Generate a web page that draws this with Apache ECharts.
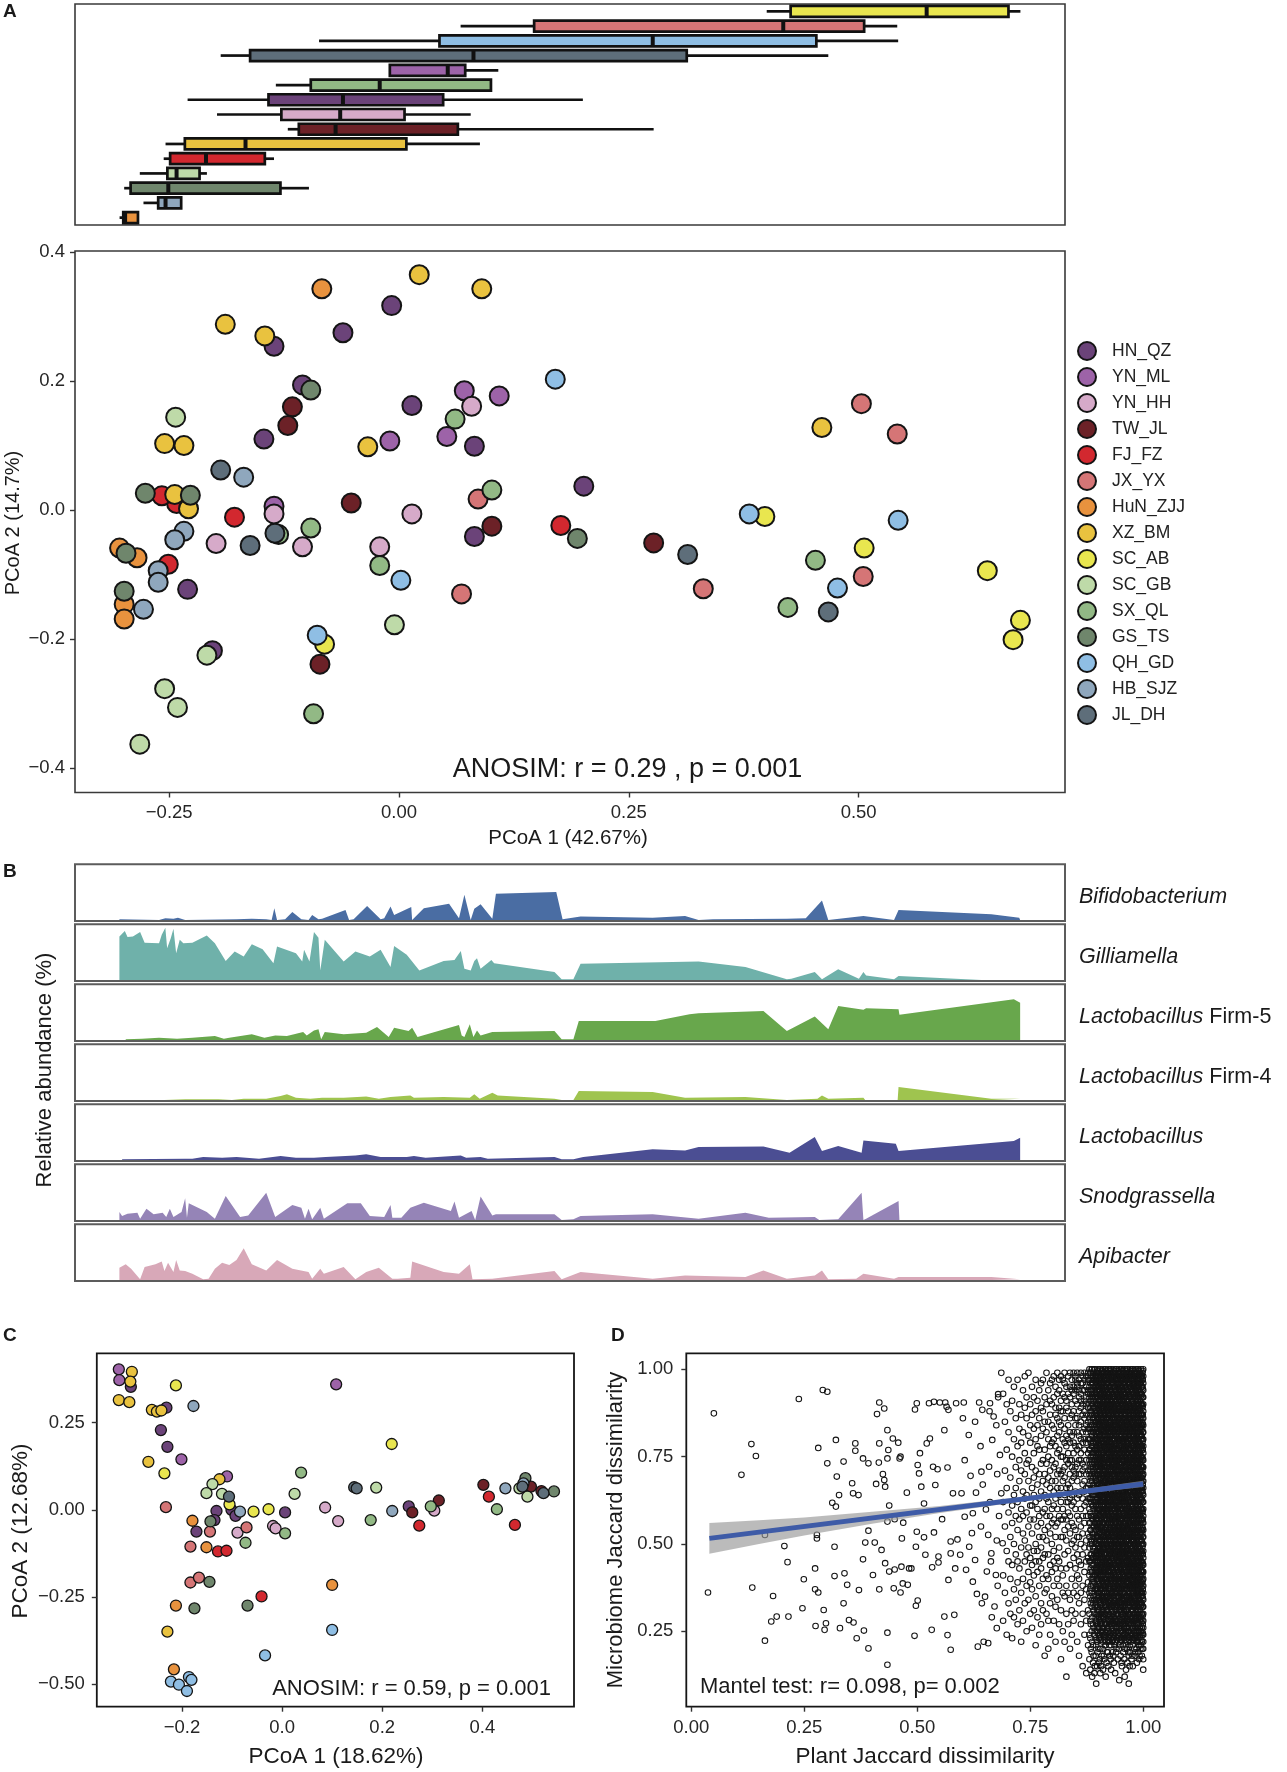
<!DOCTYPE html>
<html>
<head>
<meta charset="utf-8">
<title>Honeybee gut microbiome</title>
<script src="https://cdn.jsdelivr.net/npm/echarts/dist/echarts.min.js"></script>
<style>
  html, body { margin: 0; padding: 0; background: #fff; }
  #chart { width: 1287px; height: 1772px; }
</style>
</head>
<body>
<div id="chart"></div>
<script>
const FONT = '"Liberation Sans", Arial, Helvetica, sans-serif';

// sampling sites and their colours
const groups = ['HN_QZ', 'YN_ML', 'YN_HH', 'TW_JL', 'FJ_FZ', 'JX_YX', 'HuN_ZJJ', 'XZ_BM',
  'SC_AB', 'SC_GB', 'SX_QL', 'GS_TS', 'QH_GD', 'HB_SJZ', 'JL_DH'];
const groupColors = ['#6b4379', '#9d63a8', '#d6aac9', '#6c2127', '#d2282f', '#d57576', '#e8923e', '#e9c23f',
  '#e9e64f', '#bedaa8', '#92b985', '#6f866c', '#8fbee4', '#8fa7bd', '#5e6e7a'];

// panel A, top: PCoA 1 spread per site [site, min, q1, median, q3, max], top row first
const boxRows = [
  ['SC_AB', 0.400, 0.426, 0.574, 0.663, 0.676],
  ['JX_YX', 0.067, 0.147, 0.418, 0.506, 0.542],
  ['QH_GD', -0.087, 0.044, 0.276, 0.454, 0.543],
  ['JL_DH', -0.194, -0.162, 0.081, 0.313, 0.467],
  ['YN_ML', -0.010, -0.010, 0.053, 0.072, 0.108],
  ['SX_QL', -0.134, -0.096, -0.021, 0.100, 0.100],
  ['HN_QZ', -0.230, -0.142, -0.061, 0.048, 0.200],
  ['YN_HH', -0.198, -0.128, -0.064, 0.006, 0.078],
  ['TW_JL', -0.121, -0.109, -0.069, 0.064, 0.277],
  ['XZ_BM', -0.254, -0.233, -0.167, 0.008, 0.088],
  ['FJ_FZ', -0.256, -0.249, -0.210, -0.146, -0.136],
  ['SC_GB', -0.282, -0.252, -0.242, -0.217, -0.209],
  ['GS_TS', -0.299, -0.292, -0.251, -0.129, -0.098],
  ['HB_SJZ', -0.278, -0.262, -0.254, -0.237, -0.237],
  ['HuN_ZJJ', -0.304, -0.300, -0.298, -0.284, -0.284]
];

// panel A: [PCoA1, PCoA2, site]
const pcoaA = [
  [-0.084, 0.343, 'HuN_ZJJ'], [0.022, 0.365, 'XZ_BM'], [0.090, 0.343, 'XZ_BM'], [-0.008, 0.317, 'HN_QZ'],
  [-0.189, 0.288, 'XZ_BM'], [-0.061, 0.275, 'HN_QZ'], [-0.146, 0.270, 'XZ_BM'], [-0.136, 0.254, 'HN_QZ'],
  [-0.096, 0.186, 'GS_TS'], [-0.105, 0.194, 'HN_QZ'], [-0.116, 0.160, 'TW_JL'], [-0.121, 0.131, 'TW_JL'],
  [-0.147, 0.110, 'HN_QZ'], [-0.243, 0.144, 'SC_GB'], [-0.255, 0.103, 'XZ_BM'], [-0.234, 0.100, 'XZ_BM'],
  [-0.194, 0.062, 'JL_DH'], [-0.169, 0.051, 'HB_SJZ'], [-0.276, 0.026, 'GS_TS'], [-0.242, 0.010, 'FJ_FZ'],
  [-0.258, 0.022, 'FJ_FZ'], [-0.229, 0.002, 'XZ_BM'], [-0.244, 0.024, 'XZ_BM'], [-0.227, 0.023, 'GS_TS'],
  [-0.179, -0.011, 'FJ_FZ'], [-0.136, -0.006, 'YN_HH'], [-0.136, 0.006, 'YN_ML'], [-0.131, -0.038, 'SX_QL'],
  [-0.135, -0.036, 'JL_DH'], [-0.096, -0.028, 'SX_QL'], [-0.105, -0.057, 'YN_HH'], [-0.162, -0.055, 'JL_DH'],
  [-0.199, -0.052, 'YN_HH'], [-0.234, -0.033, 'HB_SJZ'], [-0.244, -0.046, 'HB_SJZ'], [-0.297, -0.067, 'GS_TS'],
  [-0.304, -0.059, 'HuN_ZJJ'], [-0.285, -0.074, 'HuN_ZJJ'], [-0.251, -0.084, 'FJ_FZ'], [-0.262, -0.094, 'HB_SJZ'],
  [-0.262, -0.112, 'HB_SJZ'], [-0.230, -0.123, 'HN_QZ'], [-0.299, -0.126, 'GS_TS'], [-0.299, -0.146, 'HuN_ZJJ'],
  [-0.299, -0.169, 'HuN_ZJJ'], [-0.278, -0.154, 'HB_SJZ'], [-0.209, -0.225, 'SC_GB'], [-0.203, -0.218, 'HN_QZ'],
  [-0.255, -0.277, 'SC_GB'], [-0.241, -0.306, 'SC_GB'], [-0.282, -0.363, 'SC_GB'], [-0.093, -0.316, 'SX_QL'],
  [-0.081, -0.208, 'SC_AB'], [-0.089, -0.194, 'QH_GD'], [-0.086, -0.239, 'TW_JL'], [-0.005, -0.178, 'SC_GB'],
  [0.002, -0.109, 'QH_GD'], [-0.021, -0.086, 'SX_QL'], [-0.021, -0.057, 'YN_HH'], [0.014, -0.006, 'YN_HH'],
  [-0.052, 0.011, 'TW_JL'], [-0.034, 0.098, 'XZ_BM'], [-0.010, 0.107, 'YN_ML'], [0.014, 0.162, 'HN_QZ'],
  [0.052, 0.114, 'YN_ML'], [0.061, 0.141, 'SX_QL'], [0.071, 0.185, 'YN_ML'], [0.079, 0.161, 'YN_HH'],
  [0.109, 0.177, 'YN_ML'], [0.082, 0.099, 'HN_QZ'], [0.101, 0.031, 'SX_QL'], [0.086, 0.017, 'JX_YX'],
  [0.101, -0.025, 'TW_JL'], [0.082, -0.041, 'HN_QZ'], [0.068, -0.130, 'JX_YX'], [0.170, 0.203, 'QH_GD'],
  [0.176, -0.024, 'FJ_FZ'], [0.201, 0.037, 'HN_QZ'], [0.194, -0.044, 'GS_TS'], [0.277, -0.051, 'TW_JL'],
  [0.314, -0.069, 'JL_DH'], [0.331, -0.122, 'JX_YX'], [0.381, -0.006, 'QH_GD'], [0.398, -0.010, 'SC_AB'],
  [0.460, 0.128, 'XZ_BM'], [0.503, 0.165, 'JX_YX'], [0.542, 0.118, 'JX_YX'], [0.543, -0.016, 'QH_GD'],
  [0.506, -0.059, 'SC_AB'], [0.505, -0.103, 'JX_YX'], [0.453, -0.078, 'SX_QL'], [0.477, -0.121, 'QH_GD'],
  [0.423, -0.151, 'SX_QL'], [0.467, -0.158, 'JL_DH'], [0.640, -0.094, 'SC_AB'], [0.676, -0.171, 'SC_AB'],
  [0.668, -0.201, 'SC_AB']
];

// panel C: [PCoA1, PCoA2, site]
const pcoaC = [
  [-0.326, 0.403, 'YN_ML'], [-0.300, 0.396, 'XZ_BM'], [-0.325, 0.372, 'YN_ML'], [-0.303, 0.368, 'XZ_BM'],
  [-0.302, 0.353, 'HN_QZ'], [-0.326, 0.315, 'XZ_BM'], [-0.305, 0.309, 'XZ_BM'], [-0.212, 0.357, 'SC_AB'],
  [-0.177, 0.298, 'HB_SJZ'], [-0.260, 0.287, 'XZ_BM'], [-0.250, 0.282, 'XZ_BM'], [-0.241, 0.285, 'XZ_BM'],
  [-0.231, 0.293, 'HN_QZ'], [-0.242, 0.229, 'HN_QZ'], [-0.229, 0.181, 'HN_QZ'], [-0.267, 0.138, 'XZ_BM'],
  [-0.235, 0.105, 'SC_AB'], [-0.201, 0.145, 'YN_ML'], [0.108, 0.360, 'YN_ML'], [0.219, 0.189, 'SC_AB'],
  [0.038, 0.107, 'SX_QL'], [0.025, 0.046, 'SC_GB'], [-0.139, 0.074, 'SC_GB'], [-0.151, 0.048, 'SC_GB'],
  [-0.125, 0.088, 'XZ_BM'], [-0.110, 0.096, 'YN_ML'], [-0.120, 0.046, 'SC_GB'], [-0.106, 0.038, 'JL_DH'],
  [-0.105, 0.016, 'SC_AB'], [-0.101, 0.000, 'HN_QZ'], [-0.084, -0.005, 'HB_SJZ'], [-0.093, -0.017, 'HN_QZ'],
  [-0.131, -0.003, 'HN_QZ'], [-0.135, -0.029, 'HN_QZ'], [-0.143, -0.033, 'GS_TS'], [-0.144, -0.062, 'JX_YX'],
  [-0.171, -0.062, 'HN_QZ'], [-0.179, -0.031, 'HuN_ZJJ'], [-0.232, 0.008, 'JX_YX'], [-0.183, -0.105, 'JX_YX'],
  [-0.151, -0.107, 'HuN_ZJJ'], [-0.128, -0.119, 'FJ_FZ'], [-0.111, -0.117, 'FJ_FZ'], [-0.089, -0.065, 'YN_HH'],
  [-0.071, -0.050, 'JX_YX'], [-0.073, -0.094, 'SX_QL'], [-0.057, -0.005, 'SC_AB'], [-0.027, 0.002, 'SC_AB'],
  [-0.018, -0.046, 'YN_HH'], [-0.013, -0.053, 'YN_HH'], [0.006, -0.067, 'SX_QL'], [0.006, -0.007, 'HN_QZ'],
  [-0.183, -0.208, 'JX_YX'], [-0.166, -0.194, 'JX_YX'], [-0.145, -0.206, 'GS_TS'], [-0.212, -0.274, 'HuN_ZJJ'],
  [-0.175, -0.282, 'GS_TS'], [-0.229, -0.349, 'XZ_BM'], [-0.069, -0.274, 'GS_TS'], [-0.041, -0.248, 'FJ_FZ'],
  [0.100, -0.215, 'HuN_ZJJ'], [0.100, -0.344, 'QH_GD'], [-0.034, -0.417, 'QH_GD'], [-0.216, -0.457, 'HuN_ZJJ'],
  [-0.222, -0.492, 'QH_GD'], [-0.206, -0.501, 'QH_GD'], [-0.190, -0.519, 'QH_GD'], [-0.186, -0.479, 'QH_GD'],
  [-0.181, -0.487, 'QH_GD'], [0.086, 0.007, 'YN_HH'], [0.112, -0.032, 'YN_HH'], [0.144, 0.065, 'JL_DH'],
  [0.149, 0.062, 'JL_DH'], [0.188, 0.064, 'SC_GB'], [0.177, -0.029, 'SX_QL'], [0.220, -0.003, 'HB_SJZ'],
  [0.253, 0.010, 'HN_QZ'], [0.260, -0.007, 'TW_JL'], [0.274, -0.045, 'FJ_FZ'], [0.297, 0.010, 'SX_QL'],
  [0.304, -0.002, 'YN_HH'], [0.313, 0.027, 'TW_JL'], [0.402, 0.072, 'TW_JL'], [0.413, 0.038, 'FJ_FZ'],
  [0.429, 0.002, 'SX_QL'], [0.446, 0.062, 'HB_SJZ'], [0.465, -0.043, 'FJ_FZ'], [0.474, 0.062, 'SC_GB'],
  [0.482, 0.076, 'HB_SJZ'], [0.486, 0.091, 'GS_TS'], [0.490, 0.038, 'SC_GB'], [0.497, 0.067, 'TW_JL'],
  [0.518, 0.054, 'TW_JL'], [0.522, 0.048, 'JL_DH'], [0.543, 0.053, 'GS_TS'], [0.480, 0.067, 'JL_DH']
];

// panel B: relative abundance along the sample order (position 0-100), [position, share]
const bifido = [[0, 0.01], [4.4, 0], [5.1, 0.03], [6.0, 0.02], [6.5, 0.04], [7.3, 0], [13, 0.01], [14.7, 0.02],
  [16.3, 0.01], [16.9, 0], [17.2, 0.21], [17.5, 0], [18.4, 0.01], [19.2, 0.14], [20.2, 0.01], [21, 0],
  [21.4, 0.09], [22.1, 0.01], [22.5, 0.02], [25.1, 0.18], [25.5, 0], [26.0, 0.01], [27.5, 0.25], [29.0, 0.01],
  [29.4, 0.03], [30.1, 0.24], [30.5, 0.09], [32.4, 0.23], [32.5, 0], [32.7, 0.02], [33.8, 0.21], [36.6, 0.29],
  [37.7, 0.03], [38.3, 0.45], [39.0, 0], [39.4, 0.2], [40.1, 0.28], [41.4, 0.02], [41.8, 0.47], [48.5, 0.5],
  [49.2, 0.01], [51.2, 0.06], [59.2, 0.04], [62.8, 0.07], [64.3, 0], [65.9, 0.01], [74.1, 0.02], [76.2, 0.03],
  [78.0, 0.35], [78.7, 0], [82.6, 0.07], [86.0, 0], [86.5, 0.18], [96.8, 0.10], [99.9, 0.04], [100, 0]];
const gillia = [[0, 0.78], [0.6, 0.88], [0.9, 0.77], [1.5, 0.78], [2.3, 0.86], [2.8, 0.67], [4.4, 0.66], [4.7, 0.81],
  [5.1, 0.94], [5.3, 0.57], [5.7, 0.75], [6.0, 0.92], [6.3, 0.48], [6.7, 0.72], [7.1, 0.66], [8.1, 0.67],
  [9.7, 0.80], [10.6, 0.66], [11.8, 0.34], [12.8, 0.51], [13.8, 0.42], [14.7, 0.64], [15.9, 0.55], [17.1, 0.30],
  [17.5, 0.60], [19.6, 0.48], [20.3, 0.33], [20.5, 0.54], [21.1, 0.33], [21.6, 0.86], [22.1, 0.76], [22.3, 0.17],
  [22.8, 0.72], [24.9, 0.33], [26.2, 0.51], [27.8, 0.42], [29.0, 0.54], [30.1, 0.23], [30.5, 0.61], [31.9, 0.45],
  [33.3, 0.17], [36.0, 0.34], [37.2, 0.36], [37.9, 0.52], [38.3, 0.20], [39.0, 0.17], [39.4, 0.34], [39.7, 0.39],
  [40.1, 0.20], [41.3, 0.36], [41.6, 0.30], [48.3, 0.14], [49.1, 0.01], [50.4, 0.01], [51.2, 0.29], [64.3, 0.33],
  [69.5, 0.23], [74.1, 0.01], [74.6, 0.02], [77.2, 0.14], [78.0, 0.01], [79.8, 0.19], [82.1, 0.02], [82.6, 0.14],
  [82.9, 0.08], [86.0, 0.01], [86.5, 0.07], [95.7, 0]];
const firm5 = [[0.7, 0.01], [2.5, 0.02], [4.4, 0.04], [6.4, 0.02], [8.1, 0.04], [10.6, 0.07], [11.6, 0.02],
  [12.2, 0.04], [14.7, 0.10], [16.1, 0.04], [17.3, 0.08], [18.6, 0.07], [20.4, 0.14], [20.8, 0.08], [21.6, 0.17],
  [22.1, 0.19], [22.4, 0.01], [22.8, 0.14], [24.9, 0.10], [27.4, 0.13], [28.6, 0.23], [29.9, 0.05], [30.5, 0.22],
  [32.1, 0.16], [32.5, 0.22], [33.1, 0.05], [37.7, 0.27], [38.0, 0.08], [38.3, 0.05], [38.9, 0.28], [39.3, 0.05],
  [39.7, 0.17], [40.1, 0.08], [41.4, 0.14], [41.6, 0.11], [48.3, 0.16], [49.1, 0.01], [50.4, 0.01], [51.0, 0.34],
  [59.5, 0.34], [63.3, 0.46], [64.3, 0.48], [71.5, 0.52], [74.1, 0.16], [77.2, 0.42], [78.7, 0.19], [79.8, 0.61],
  [82.6, 0.54], [82.9, 0.57], [86.5, 0.55], [86.6, 0.45], [99.3, 0.73], [100, 0.67]];
const firm4 = [[5.0, 0], [7.3, 0.01], [11.0, 0.01], [12.5, 0], [13.8, 0.02], [16.3, 0.02], [17.9, 0.07], [18.6, 0.10],
  [19.6, 0.04], [21.2, 0.02], [22.5, 0.04], [24.9, 0.04], [27.4, 0.06], [28.8, 0.02], [30.1, 0.05], [32.3, 0.08],
  [32.7, 0.04], [36.0, 0.05], [38.9, 0.04], [39.4, 0.10], [40.0, 0.02], [41.4, 0.13], [42.0, 0.08], [48.3, 0.02],
  [49.1, 0], [50.4, 0], [51.0, 0.16], [59.2, 0.14], [62.8, 0.04], [69.5, 0.05], [74.1, 0], [77.5, 0.02],
  [78.0, 0.08], [78.7, 0.02], [82.6, 0.04], [82.8, 0], [86.4, 0], [86.5, 0.23], [96.8, 0.02], [100, 0.02]];
const lacto = [[0.3, 0.01], [7.3, 0.02], [8.1, 0.02], [9.3, 0.05], [11.4, 0.04], [13.0, 0.05], [15.5, 0.02],
  [17.9, 0.07], [19.6, 0.04], [21.6, 0.04], [22.9, 0.05], [26.2, 0.08], [27.4, 0.10], [29.0, 0.05], [31.9, 0.05],
  [32.7, 0.07], [34.0, 0.04], [37.9, 0.08], [38.5, 0.04], [40.1, 0.05], [40.9, 0.02], [48.3, 0.05], [49.1, 0.01],
  [50.4, 0.01], [51.5, 0.05], [59.2, 0.19], [62.8, 0.17], [64.3, 0.23], [71.5, 0.24], [74.4, 0.13], [77.2, 0.41],
  [78.0, 0.16], [79.8, 0.25], [82.4, 0.13], [82.6, 0.35], [86.2, 0.29], [86.5, 0.16], [99.3, 0.34], [100, 0.40]];
const snod = [[0, 0.14], [0.3, 0.07], [0.9, 0.11], [2.0, 0.13], [2.3, 0.02], [3.0, 0.20], [3.8, 0.10], [4.8, 0.13],
  [5.2, 0.05], [5.6, 0.20], [6.0, 0.05], [6.9, 0.14], [7.3, 0.39], [7.5, 0.04], [7.7, 0.30], [9.7, 0.14],
  [10.6, 0.02], [11.8, 0.43], [13.4, 0.05], [14.3, 0.08], [16.3, 0.49], [17.3, 0.05], [19.2, 0.27], [20.2, 0.22],
  [20.6, 0.02], [21.0, 0.20], [21.4, 0.01], [22.3, 0.22], [22.7, 0.02], [25.3, 0.30], [26.8, 0.30], [27.8, 0.07],
  [29.4, 0.05], [30.1, 0.27], [30.3, 0.04], [31.3, 0.04], [32.3, 0.22], [33.8, 0.31], [36.8, 0.16], [37.2, 0.33],
  [37.7, 0.04], [39.1, 0.16], [39.5, 0], [40.1, 0.42], [41.4, 0.08], [41.8, 0.10], [48.3, 0.10], [49.1, 0],
  [50.4, 0.01], [51.2, 0.07], [59.2, 0.10], [64.3, 0.02], [69.5, 0.13], [72.1, 0.04], [77.2, 0.05], [77.7, 0],
  [79.8, 0.01], [82.4, 0.49], [82.6, 0], [82.9, 0.02], [86.5, 0.34], [86.6, 0]];
const apib = [[0, 0.22], [0.7, 0.28], [1.3, 0.20], [2.3, 0.01], [2.8, 0.23], [4.0, 0.28], [4.7, 0.33], [5.0, 0.16],
  [5.4, 0.31], [6.0, 0.14], [6.3, 0.36], [6.7, 0.17], [7.3, 0.16], [8.1, 0.11], [9.3, 0.01], [9.9, 0.02],
  [10.6, 0.20], [11.4, 0.31], [12.2, 0.27], [13.0, 0.36], [13.8, 0.57], [14.7, 0.28], [16.3, 0.17], [17.5, 0.36],
  [19.2, 0.20], [21.0, 0.14], [21.4, 0.02], [22.3, 0.20], [22.7, 0.11], [24.9, 0.23], [26.2, 0.01], [27.4, 0.14],
  [28.8, 0.22], [30.3, 0.02], [30.9, 0.02], [32.3, 0.04], [32.5, 0.33], [36.0, 0.14], [37.7, 0.11], [38.9, 0.28],
  [39.2, 0.01], [41.4, 0.02], [48.3, 0.16], [49.1, 0.01], [51.2, 0.14], [59.2, 0.02], [62.8, 0.08], [69.5, 0.05],
  [71.5, 0.17], [74.1, 0.02], [77.2, 0.08], [78.0, 0.17], [78.7, 0.01], [81.8, 0.02], [82.6, 0.11], [86.0, 0.02],
  [86.5, 0.05], [96.8, 0.05], [100, 0.01]];
const stripNames = ['Bifidobacterium', 'Gilliamella', 'Lactobacillus Firm-5', 'Lactobacillus Firm-4',
  'Lactobacillus', 'Snodgrassella', 'Apibacter'];
const stripData = [bifido, gillia, firm5, firm4, lacto, snod, apib];
const stripColors = ['#4a6da3', '#6fb1aa', '#68a74c', '#9fc44f', '#4b4e93', '#9584b7', '#d8a8b8'];

// panel D: plant vs microbiome Jaccard dissimilarity, scattered pairs [plant, microbiome]
const dSparse = [
  [0.050, 0.874], [0.037, 0.361], [0.111, 0.698], [0.133, 0.786], [0.143, 0.752], [0.135, 0.375], [0.163, 0.526],
  [0.163, 0.223], [0.177, 0.278], [0.181, 0.351], [0.189, 0.292], [0.206, 0.494], [0.213, 0.448], [0.215, 0.292],
  [0.238, 0.915], [0.246, 0.316], [0.249, 0.399], [0.275, 0.265], [0.274, 0.370], [0.278, 0.526], [0.281, 0.775],
  [0.278, 0.516], [0.274, 0.430], [0.291, 0.941], [0.301, 0.936], [0.301, 0.731], [0.293, 0.311], [0.295, 0.254],
  [0.298, 0.273], [0.281, 0.361], [0.317, 0.492], [0.312, 0.618], [0.320, 0.607], [0.317, 0.408], [0.320, 0.798],
  [0.327, 0.640], [0.322, 0.693], [0.329, 0.259], [0.337, 0.736], [0.339, 0.416], [0.337, 0.330], [0.345, 0.383],
  [0.349, 0.282], [0.356, 0.674], [0.358, 0.645], [0.363, 0.788], [0.363, 0.767], [0.359, 0.275], [0.366, 0.230],
  [0.370, 0.640], [0.371, 0.368], [0.380, 0.745], [0.382, 0.252], [0.380, 0.456], [0.392, 0.538], [0.392, 0.201],
  [0.392, 0.731], [0.385, 0.504], [0.402, 0.411], [0.406, 0.504], [0.409, 0.672], [0.411, 0.872], [0.416, 0.905],
  [0.415, 0.733], [0.416, 0.788], [0.416, 0.370], [0.421, 0.483], [0.424, 0.700], [0.427, 0.683], [0.427, 0.888],
  [0.429, 0.664], [0.429, 0.445], [0.434, 0.826], [0.434, 0.246], [0.434, 0.154], [0.434, 0.745], [0.436, 0.769],
  [0.434, 0.564], [0.438, 0.610], [0.438, 0.421], [0.446, 0.802], [0.448, 0.373], [0.450, 0.571], [0.450, 0.427],
  [0.458, 0.790], [0.461, 0.745], [0.463, 0.750], [0.465, 0.435], [0.466, 0.516], [0.468, 0.387], [0.463, 0.361],
  [0.469, 0.561], [0.477, 0.647], [0.479, 0.383], [0.482, 0.430], [0.487, 0.430], [0.494, 0.237], [0.495, 0.885],
  [0.497, 0.323], [0.499, 0.903], [0.497, 0.492], [0.499, 0.535], [0.501, 0.726], [0.501, 0.338], [0.504, 0.702],
  [0.506, 0.760], [0.509, 0.664], [0.515, 0.616], [0.515, 0.519], [0.518, 0.469], [0.521, 0.788], [0.526, 0.903],
  [0.528, 0.802], [0.532, 0.254], [0.533, 0.433], [0.535, 0.721], [0.537, 0.907], [0.537, 0.533], [0.540, 0.669],
  [0.545, 0.714], [0.547, 0.447], [0.547, 0.464], [0.550, 0.905], [0.555, 0.571], [0.560, 0.292], [0.560, 0.826],
  [0.562, 0.905], [0.565, 0.893], [0.567, 0.239], [0.569, 0.884], [0.567, 0.719], [0.569, 0.397], [0.574, 0.197],
  [0.574, 0.473], [0.574, 0.507], [0.582, 0.297], [0.579, 0.645], [0.584, 0.430], [0.586, 0.903], [0.589, 0.513],
  [0.595, 0.469], [0.598, 0.645], [0.601, 0.860], [0.603, 0.905], [0.605, 0.740], [0.605, 0.578], [0.608, 0.426],
  [0.614, 0.812], [0.615, 0.492], [0.618, 0.695], [0.621, 0.531], [0.623, 0.588], [0.623, 0.392], [0.628, 0.850],
  [0.628, 0.454], [0.630, 0.647], [0.632, 0.357], [0.634, 0.206], [0.637, 0.905], [0.642, 0.707], [0.644, 0.884],
  [0.647, 0.220], [0.650, 0.349], [0.652, 0.599], [0.654, 0.421], [0.657, 0.216], [0.657, 0.526], [0.659, 0.721],
  [0.661, 0.903], [0.664, 0.473], [0.666, 0.798], [0.669, 0.865], [0.671, 0.321], [0.674, 0.411], [0.676, 0.259],
  [0.679, 0.929], [0.681, 0.580], [0.683, 0.755], [0.686, 0.645], [0.686, 0.990], [0.689, 0.502],
  [0.640, 0.780], [0.641, 0.550], [0.643, 0.330], [0.645, 0.670], [0.660, 0.880], [0.661, 0.620], [0.663, 0.450],
  [0.665, 0.290], [0.675, 0.840], [0.676, 0.510], [0.677, 0.700], [0.678, 0.380], [0.679, 0.920]
];
// crowded part of panel D: columns of points [plant x 1000, microbiome values x 100]
const dCrowd = [
  [690, [93, 62, 41, 28]], [694, [85, 55, 36, 71]], [698, [90, 48, 66, 24, 77]], [702, [59, 82, 33, 45, 97]],
  [706, [69, 52, 88, 30, 40]], [710, [91, 61, 44, 75, 23, 56]], [714, [80, 37, 64, 50, 95, 29]],
  [718, [72, 47, 86, 58, 34, 66]], [722, [97, 54, 39, 78, 62, 27, 45]], [726, [83, 68, 31, 57, 90, 43, 74]],
  [730, [60, 87, 49, 36, 71, 22, 79]], [734, [94, 53, 65, 40, 82, 28, 58]], [738, [76, 45, 89, 63, 33, 70, 51, 98]],
  [742, [86, 59, 38, 73, 47, 92, 25, 64]], [746, [68, 81, 42, 55, 99, 34, 74, 49]],
  [750, [90, 61, 46, 79, 30, 57, 84, 39]], [754, [72, 53, 95, 37, 66, 44, 87, 26, 61]],
  [758, [83, 48, 69, 31, 92, 57, 76, 41, 64]], [762, [97, 62, 50, 80, 35, 71, 45, 88, 21]],
  [766, [78, 55, 91, 42, 67, 29, 84, 60, 48]], [770, [94, 70, 52, 38, 86, 63, 45, 77, 24, 58]],
  [774, [81, 65, 43, 96, 56, 33, 73, 89, 49, 27]], [778, [88, 59, 74, 40, 97, 52, 68, 31, 83, 46]],
  [782, [92, 77, 54, 64, 36, 85, 47, 70, 18, 60]], [786, [99, 73, 58, 82, 41, 67, 30, 90, 51, 63, 37]],
  [790, [85, 62, 94, 47, 75, 55, 28, 80, 40, 69, 20]], [794, [96, 71, 53, 87, 44, 66, 33, 78, 58, 91, 24]],
  [798, [90, 79, 60, 42, 84, 68, 50, 35, 74, 97, 56]], [802, [98, 83, 65, 48, 92, 57, 72, 38, 80, 28, 61, 45]],
  [806, [87, 73, 55, 95, 63, 43, 78, 32, 68, 52, 89, 22]], [810, [99, 76, 60, 86, 46, 70, 34, 81, 56, 93, 40, 66]],
  [814, [94, 82, 64, 49, 89, 71, 38, 77, 58, 27, 85, 45, 97]], [818, [91, 75, 57, 98, 66, 43, 84, 52, 70, 31, 62, 88, 17]],
  [822, [97, 80, 68, 52, 88, 60, 41, 75, 36, 93, 57, 71, 25]], [826, [99, 86, 72, 58, 92, 64, 47, 79, 35, 69, 54, 83, 22, 96]],
  [830, [95, 81, 66, 51, 89, 74, 43, 62, 30, 78, 57, 91, 38, 12]], [834, [98, 88, 73, 59, 84, 67, 48, 93, 55, 36, 76, 62, 27, 80]],
  [838, [99, 92, 79, 63, 86, 70, 53, 95, 44, 74, 58, 34, 82, 66, 20]], [842, [97, 87, 74, 61, 90, 68, 50, 81, 40, 72, 56, 94, 31, 64, 24]],
  [846, [99, 93, 82, 69, 55, 88, 76, 46, 62, 36, 79, 51, 95, 28, 71]], [850, [98, 91, 84, 72, 60, 94, 78, 49, 65, 38, 86, 54, 70, 30, 97, 43]],
  [854, [99, 95, 86, 73, 63, 90, 77, 52, 68, 41, 82, 58, 35, 96, 47, 22]], [858, [97, 92, 81, 70, 57, 88, 74, 45, 64, 33, 84, 52, 94, 40, 78, 18]],
  [862, [99, 96, 89, 76, 65, 91, 80, 55, 70, 44, 85, 60, 36, 93, 50, 74, 27]], [866, [98, 94, 87, 79, 67, 90, 73, 58, 82, 47, 63, 38, 96, 53, 71, 30, 15]],
  [870, [99, 97, 91, 83, 72, 86, 77, 61, 68, 49, 88, 56, 42, 94, 65, 34, 80, 24]], [874, [98, 95, 90, 82, 74, 87, 66, 58, 79, 45, 92, 62, 51, 37, 84, 70, 28, 13]],
  [878, [99, 97, 93, 85, 76, 89, 80, 63, 71, 53, 94, 66, 46, 39, 83, 58, 31, 21]],
  [881, [100, 97, 95, 92, 90, 86, 83, 80, 77, 74, 70, 67, 63, 60, 56, 52, 49, 45, 41, 36, 30, 24, 17]],
  [883, [99, 96, 93, 89, 87, 84, 80, 77, 73, 71, 68, 63, 59, 56, 54, 50, 45, 42, 37, 35, 28, 23, 14]],
  [884, [99, 98, 94, 91, 88, 85, 82, 79, 75, 72, 69, 65, 62, 58, 54, 51, 47, 43, 38, 33, 27, 20]],
  [886, [100, 97, 94, 92, 88, 83, 81, 78, 74, 70, 66, 63, 58, 55, 51, 47, 44, 40, 36, 32, 25, 19]],
  [887, [100, 96, 93, 90, 87, 84, 81, 78, 76, 73, 68, 64, 61, 57, 53, 50, 46, 42, 39, 34, 29, 22, 12]],
  [889, [98, 96, 92, 90, 86, 82, 79, 75, 72, 69, 65, 61, 57, 53, 49, 46, 41, 38, 33, 27, 21, 16]],
  [890, [99, 97, 95, 91, 89, 86, 82, 79, 76, 71, 67, 64, 60, 55, 52, 48, 44, 40, 35, 31, 26, 18]],
  [892, [100, 97, 93, 89, 87, 84, 80, 77, 73, 70, 66, 62, 58, 55, 51, 47, 43, 39, 34, 30, 24, 13]],
  [893, [100, 98, 94, 92, 88, 85, 83, 80, 77, 74, 70, 66, 62, 59, 56, 53, 49, 45, 41, 37, 32, 25, 15]],
  [895, [98, 95, 92, 88, 85, 82, 79, 76, 72, 69, 64, 61, 57, 54, 50, 46, 42, 37, 33, 29, 23, 18]],
  [896, [99, 97, 96, 93, 90, 87, 84, 81, 78, 75, 72, 68, 65, 61, 57, 54, 50, 46, 43, 38, 34, 28, 21, 10]],
  [898, [99, 96, 94, 90, 86, 83, 80, 77, 74, 71, 67, 63, 59, 55, 52, 48, 45, 41, 37, 32, 27, 22, 15]],
  [899, [100, 98, 95, 92, 89, 86, 83, 80, 76, 73, 70, 67, 63, 60, 56, 52, 48, 44, 40, 36, 31, 26, 19]],
  [901, [98, 95, 92, 89, 85, 82, 79, 76, 73, 70, 66, 62, 58, 55, 51, 47, 43, 40, 36, 31, 26, 20]],
  [902, [99, 97, 94, 91, 88, 85, 82, 79, 77, 74, 71, 67, 64, 60, 57, 53, 50, 47, 42, 39, 35, 29, 23, 16]],
  [904, [100, 97, 94, 90, 87, 84, 81, 78, 74, 71, 67, 64, 60, 56, 53, 49, 46, 42, 38, 34, 28, 24, 17]],
  [905, [100, 98, 96, 93, 90, 87, 84, 81, 78, 75, 72, 69, 65, 62, 58, 55, 51, 48, 44, 41, 37, 33, 27, 20, 13]],
  [907, [98, 96, 93, 89, 86, 83, 79, 76, 73, 69, 66, 62, 59, 55, 52, 48, 44, 41, 37, 33, 29, 23, 15]],
  [908, [99, 97, 95, 92, 89, 86, 83, 80, 77, 74, 70, 67, 64, 61, 57, 54, 51, 47, 44, 40, 36, 31, 25, 18]],
  [910, [99, 96, 93, 90, 87, 84, 81, 77, 74, 70, 67, 63, 60, 56, 53, 50, 46, 43, 39, 35, 31, 26, 20]],
  [911, [100, 98, 94, 91, 88, 85, 82, 79, 76, 73, 71, 68, 65, 62, 59, 56, 52, 49, 46, 42, 38, 34, 29, 22, 14]],
  [913, [98, 95, 92, 89, 86, 82, 79, 76, 73, 70, 66, 63, 59, 56, 52, 49, 45, 42, 38, 34, 29, 24, 18]],
  [914, [99, 97, 96, 93, 90, 87, 84, 81, 78, 75, 72, 69, 66, 63, 60, 57, 54, 50, 47, 43, 39, 35, 30, 24, 17]],
  [916, [100, 97, 94, 91, 87, 84, 81, 78, 75, 71, 68, 64, 61, 58, 54, 51, 47, 44, 40, 36, 32, 27, 21]],
  [917, [100, 98, 95, 92, 89, 86, 83, 80, 77, 74, 71, 68, 65, 62, 59, 55, 52, 49, 45, 42, 38, 33, 27, 21, 12]],
  [919, [98, 96, 93, 90, 86, 83, 80, 77, 74, 70, 67, 64, 60, 57, 53, 50, 46, 43, 39, 35, 31, 27, 22, 16]],
  [920, [99, 97, 94, 91, 88, 86, 83, 80, 78, 75, 72, 69, 66, 63, 60, 57, 53, 50, 47, 44, 40, 36, 31, 26, 19]],
  [922, [99, 96, 92, 89, 86, 83, 80, 76, 73, 70, 66, 63, 59, 56, 53, 49, 46, 42, 39, 35, 30, 25, 19]],
  [923, [100, 98, 96, 93, 90, 87, 84, 82, 79, 76, 73, 70, 67, 64, 61, 58, 55, 52, 48, 45, 41, 37, 33, 28, 22, 15]],
  [925, [98, 95, 93, 90, 87, 84, 80, 77, 74, 71, 68, 64, 61, 58, 54, 51, 47, 44, 40, 36, 32, 27, 21]],
  [926, [99, 97, 95, 92, 89, 86, 83, 81, 78, 75, 72, 69, 66, 63, 60, 57, 54, 51, 48, 45, 42, 38, 34, 29, 24, 18]],
  [928, [100, 97, 94, 90, 87, 84, 81, 78, 74, 71, 67, 64, 61, 57, 54, 51, 48, 44, 41, 37, 33, 28, 23, 17]],
  [929, [100, 98, 94, 91, 88, 85, 82, 79, 77, 74, 71, 68, 65, 62, 59, 56, 53, 50, 47, 43, 40, 36, 32, 27, 21, 14]],
  [931, [98, 96, 92, 89, 86, 83, 80, 77, 73, 70, 67, 63, 60, 57, 53, 50, 46, 43, 40, 36, 32, 27, 22]],
  [932, [99, 97, 96, 93, 90, 87, 84, 81, 78, 75, 73, 70, 67, 64, 61, 58, 55, 52, 49, 46, 43, 39, 35, 30, 25, 19]],
  [934, [99, 96, 93, 90, 87, 84, 80, 77, 74, 71, 68, 65, 61, 58, 54, 51, 48, 44, 41, 37, 33, 28, 24, 18]],
  [935, [100, 98, 95, 92, 89, 86, 84, 81, 78, 75, 72, 69, 66, 63, 60, 57, 55, 52, 49, 46, 42, 38, 34, 29, 23, 16]],
  [937, [98, 95, 92, 89, 86, 83, 80, 76, 73, 70, 67, 64, 60, 57, 54, 51, 47, 44, 40, 36, 32, 27, 21]],
  [938, [99, 97, 94, 91, 88, 85, 82, 80, 77, 74, 71, 68, 65, 62, 59, 56, 53, 50, 47, 44, 41, 37, 33, 28, 22, 13]],
  [940, [100, 97, 94, 90, 87, 84, 81, 78, 75, 72, 68, 65, 62, 59, 56, 53, 50, 46, 43, 39, 35, 30, 25, 19]],
  [941, [100, 98, 96, 93, 90, 87, 84, 81, 79, 76, 73, 70, 67, 64, 61, 58, 55, 52, 49, 46, 43, 40, 36, 31, 26, 20]],
  [943, [98, 96, 93, 90, 86, 83, 80, 77, 74, 71, 67, 64, 61, 58, 55, 52, 48, 45, 41, 37, 33, 28, 23]],
  [944, [99, 97, 95, 92, 89, 86, 83, 80, 77, 74, 71, 69, 66, 63, 60, 57, 54, 51, 48, 45, 42, 38, 35, 30, 24, 17]],
  [946, [99, 96, 92, 89, 86, 83, 80, 77, 74, 71, 68, 65, 62, 59, 55, 52, 49, 45, 42, 39, 35, 31, 26, 20]],
  [947, [100, 98, 94, 91, 88, 85, 82, 79, 76, 73, 70, 67, 64, 61, 58, 56, 53, 50, 47, 44, 41, 37, 33, 27, 21, 11]],
  [949, [98, 95, 92, 89, 86, 83, 80, 76, 73, 70, 67, 64, 61, 58, 55, 52, 49, 46, 43, 40, 36, 32, 27, 22]],
  [950, [99, 97, 96, 93, 90, 87, 84, 81, 78, 75, 72, 69, 66, 63, 60, 57, 54, 51, 48, 45, 43, 39, 35, 31, 25, 18]],
  [952, [100, 97, 94, 91, 88, 84, 81, 78, 75, 72, 69, 66, 63, 60, 57, 53, 50, 47, 44, 40, 37, 33, 28, 23, 16]],
  [953, [100, 98, 95, 92, 89, 86, 83, 80, 77, 74, 71, 68, 65, 63, 60, 57, 54, 51, 48, 45, 42, 38, 34, 29, 23, 15]],
  [955, [98, 96, 93, 90, 86, 83, 80, 77, 74, 71, 68, 65, 62, 58, 55, 52, 49, 46, 43, 40, 36, 32, 27, 21]],
  [956, [99, 97, 94, 91, 88, 85, 82, 79, 77, 74, 71, 68, 65, 62, 59, 56, 53, 50, 47, 44, 41, 38, 34, 30, 24, 19]],
  [958, [99, 96, 92, 89, 86, 83, 80, 77, 74, 71, 68, 65, 62, 59, 56, 53, 50, 47, 44, 40, 37, 33, 28, 23, 17]],
  [959, [100, 98, 96, 93, 90, 87, 84, 81, 78, 75, 72, 69, 66, 63, 61, 58, 55, 52, 49, 46, 43, 40, 36, 32, 27, 20, 12]],
  [961, [98, 95, 93, 90, 87, 84, 81, 78, 75, 72, 69, 66, 63, 60, 57, 54, 51, 48, 45, 42, 38, 34, 29, 24]],
  [962, [99, 97, 95, 92, 89, 86, 83, 80, 77, 74, 71, 68, 65, 62, 59, 56, 53, 51, 48, 45, 42, 39, 35, 31, 26, 21, 14]],
  [964, [100, 97, 94, 91, 88, 85, 82, 79, 76, 73, 70, 66, 63, 60, 57, 54, 51, 48, 45, 42, 39, 35, 31, 26, 20]],
  [965, [100, 98, 94, 91, 88, 85, 82, 79, 76, 73, 70, 67, 64, 61, 58, 55, 52, 49, 47, 44, 41, 37, 33, 28, 22, 16]],
  [967, [98, 96, 93, 89, 86, 83, 80, 77, 74, 71, 68, 65, 62, 59, 56, 53, 50, 47, 44, 41, 38, 34, 30, 25, 19]],
  [968, [99, 97, 96, 93, 90, 87, 84, 81, 78, 75, 72, 69, 66, 63, 60, 57, 54, 51, 48, 45, 42, 39, 35, 30, 25, 18, 10]],
  [970, [99, 96, 92, 89, 86, 83, 80, 77, 74, 71, 68, 65, 62, 59, 56, 53, 50, 47, 44, 41, 38, 34, 30, 26, 21, 15]],
  [971, [100, 98, 95, 92, 89, 86, 83, 80, 77, 74, 71, 68, 65, 62, 59, 56, 53, 50, 47, 44, 41, 38, 34, 29, 24, 19]],
  [973, [98, 95, 92, 89, 86, 83, 80, 77, 74, 71, 68, 65, 62, 59, 56, 53, 50, 47, 44, 41, 38, 35, 31, 27, 22]],
  [974, [99, 97, 94, 91, 88, 85, 82, 79, 76, 73, 70, 67, 64, 61, 58, 55, 52, 49, 46, 43, 40, 37, 33, 28, 23, 17]],
  [976, [100, 97, 94, 91, 88, 85, 82, 79, 76, 73, 70, 67, 64, 61, 58, 55, 52, 49, 46, 43, 40, 37, 33, 29, 24, 18]],
  [977, [100, 98, 96, 93, 90, 87, 84, 81, 78, 75, 72, 69, 66, 63, 60, 57, 54, 51, 48, 45, 42, 39, 36, 31, 26, 21, 15]],
  [979, [98, 96, 93, 90, 87, 84, 81, 78, 75, 72, 69, 66, 63, 60, 57, 54, 51, 48, 45, 42, 39, 36, 32, 28, 23]],
  [980, [99, 97, 95, 92, 89, 86, 83, 80, 77, 74, 71, 68, 65, 62, 59, 56, 53, 50, 47, 44, 41, 38, 34, 30, 25, 20]],
  [982, [99, 96, 92, 89, 86, 83, 80, 77, 74, 71, 68, 65, 62, 59, 56, 53, 50, 47, 44, 41, 38, 35, 32, 28, 23, 19]],
  [983, [100, 98, 94, 91, 88, 85, 82, 79, 76, 73, 70, 67, 64, 61, 58, 55, 52, 49, 46, 43, 40, 37, 33, 29, 24, 18]],
  [985, [98, 95, 93, 90, 87, 84, 81, 78, 75, 72, 69, 66, 63, 60, 57, 54, 51, 48, 45, 42, 39, 36, 33, 29, 25, 20]],
  [986, [99, 97, 96, 93, 90, 87, 84, 81, 78, 75, 72, 69, 66, 63, 60, 57, 54, 51, 48, 45, 42, 39, 36, 32, 27, 22, 16]],
  [988, [100, 97, 94, 91, 88, 85, 82, 79, 76, 73, 70, 67, 64, 61, 58, 55, 52, 49, 46, 43, 40, 37, 34, 30, 26, 22]],
  [989, [100, 98, 95, 92, 89, 86, 83, 80, 77, 74, 71, 68, 65, 62, 59, 56, 53, 50, 47, 44, 41, 38, 35, 31, 27, 23, 19]],
  [991, [98, 96, 93, 90, 87, 84, 81, 78, 75, 72, 69, 66, 63, 60, 57, 54, 51, 48, 45, 42, 39, 36, 33, 29, 25, 21, 17]],
  [992, [99, 97, 94, 91, 88, 85, 82, 79, 76, 73, 70, 67, 64, 61, 58, 55, 52, 49, 46, 43, 40, 37, 34, 30, 26, 22, 18]],
  [994, [99, 96, 92, 89, 86, 83, 80, 77, 74, 71, 68, 65, 62, 59, 56, 53, 50, 47, 44, 41, 38, 35, 32, 28, 24, 20]],
  [995, [100, 98, 96, 93, 90, 87, 84, 81, 78, 75, 72, 69, 66, 63, 60, 57, 54, 51, 48, 45, 42, 39, 36, 33, 29, 25, 21]],
  [997, [98, 95, 93, 90, 87, 84, 81, 78, 75, 72, 69, 66, 63, 60, 57, 54, 51, 48, 45, 42, 39, 36, 33, 30, 26, 22, 18]],
  [998, [99, 97, 95, 92, 89, 86, 83, 80, 77, 74, 71, 68, 65, 62, 59, 56, 53, 50, 47, 44, 41, 38, 35, 32, 28, 24, 20]],
  [1000, [100, 98, 96, 94, 92, 90, 88, 86, 84, 82, 80, 78, 76, 74, 72, 70, 68, 66, 64, 62, 60, 58, 56, 54, 52,
    50, 48, 46, 44, 42, 40, 38, 36, 34, 32, 30, 28, 26, 24, 22, 20, 17, 14]]
];
// the solid black mass of panel D: overplotted stacks (values x 100) and the columns (x 1000) they sit in
const massStackA = [98.5, 96, 93.5, 91, 88.5, 86, 83.5, 81, 78.5, 76, 73.5, 71, 68.5, 66, 63.5, 61, 58.5, 56,
  53.5, 51, 48.5, 46, 43.5, 41, 38.5, 36, 33.5, 31, 28.5, 26, 23.5];
const massStackB = [97.5, 95, 92.5, 90, 87.5, 85, 82.5, 80, 77.5, 75, 72.5, 70, 67.5, 65, 62.5, 60, 57.5, 55,
  52.5, 50, 47.5, 45, 42.5, 40, 37.5, 35, 32.5, 30, 27.5, 25, 22.5];
const massStackC = [99.5, 97, 94.5, 92, 89.5, 87, 84.5, 82, 79.5, 77, 74.5, 72, 69.5, 67, 64.5, 62, 59.5, 57,
  54.5, 52, 49.5, 47, 44.5, 42, 39.5, 37, 34.5, 32, 29.5, 27, 24.5];
const massCols = [
  [897, massStackB], [900, massStackC],
  [903, massStackA], [906, massStackB], [909, massStackC], [912, massStackA], [915, massStackB], [918, massStackC],
  [921, massStackA], [924, massStackB], [927, massStackC], [930, massStackA], [933, massStackB], [936, massStackC],
  [939, massStackA], [942, massStackB], [945, massStackC], [948, massStackA], [951, massStackB], [954, massStackC],
  [957, massStackA], [960, massStackB], [963, massStackC], [966, massStackA], [969, massStackB], [972, massStackC],
  [975, massStackA], [978, massStackB], [981, massStackC], [984, massStackA], [987, massStackB], [990, massStackC],
  [993, massStackA], [996, massStackB], [999, massStackC]
];
// linear fit and its confidence band
const fitX = [0.04, 1.0];
const fitY = [0.516, 0.672];
const bandX = [0.04, 0.15, 0.25, 0.4, 0.55, 0.7, 0.85, 1.0];
const bandLo = [0.472, 0.500, 0.524, 0.558, 0.589, 0.616, 0.642, 0.663];
const bandHi = [0.560, 0.568, 0.576, 0.592, 0.609, 0.630, 0.654, 0.681];

// axis ticks
const aXTicks = [-0.25, 0, 0.25, 0.5], aXLabels = ['\u22120.25', '0.00', '0.25', '0.50'];
const aYTicks = [-0.4, -0.2, 0, 0.2, 0.4], aYLabels = ['\u22120.4', '\u22120.2', '0.0', '0.2', '0.4'];
const cXTicks = [-0.2, 0, 0.2, 0.4], cXLabels = ['\u22120.2', '0.0', '0.2', '0.4'];
const cYTicks = [-0.5, -0.25, 0, 0.25], cYLabels = ['\u22120.50', '\u22120.25', '0.00', '0.25'];
const dXTicks = [0, 0.25, 0.5, 0.75, 1], dXLabels = ['0.00', '0.25', '0.50', '0.75', '1.00'];
const dYTicks = [0.25, 0.5, 0.75, 1], dYLabels = ['0.25', '0.50', '0.75', '1.00'];

const chart = echarts.init(document.getElementById('chart'));

function valueAxis(gridIndex, min, max, ticks, labels, margin) {
  return {
    type: 'value', gridIndex: gridIndex, min: min, max: max,
    axisLine: { show: false, onZero: false },
    splitLine: { show: false },
    axisTick: { show: true, customValues: ticks, length: 5, lineStyle: { color: '#333', width: 1.4 } },
    axisLabel: {
      customValues: ticks, fontSize: 18.5, color: '#262626', fontFamily: FONT, margin: margin,
      formatter: function (v) {
        const i = ticks.findIndex(t => Math.abs(t - v) < 1e-9);
        return i < 0 ? '' : labels[i];
      }
    }
  };
}
function hiddenAxis(gridIndex, min, max) {
  return { type: 'value', gridIndex: gridIndex, min: min, max: max, show: false, axisLine: { onZero: false } };
}

function renderBox(params, api) {
  const row = boxRows[params.dataIndex];
  const fill = groupColors[groups.indexOf(row[0])];
  const yi = api.value(0);
  const p = [1, 2, 3, 4, 5].map(k => api.coord([api.value(k), yi]));
  const y = p[0][1], h = 11;
  const ink = { stroke: '#111', lineWidth: 2.7 };
  return {
    type: 'group',
    children: [
      { type: 'line', shape: { x1: p[0][0], y1: y, x2: p[1][0], y2: y }, style: ink },
      { type: 'line', shape: { x1: p[3][0], y1: y, x2: p[4][0], y2: y }, style: ink },
      { type: 'rect', shape: { x: p[1][0], y: y - h / 2, width: p[3][0] - p[1][0], height: h },
        style: { fill: fill, stroke: '#111', lineWidth: 2.7 } },
      { type: 'line', shape: { x1: p[2][0], y1: y - h / 2, x2: p[2][0], y2: y + h / 2 },
        style: { stroke: '#111', lineWidth: 4 } }
    ]
  };
}

function renderBand(params, api) {
  if (params.dataIndex !== 0) return null;
  const pts = bandX.map((x, i) => api.coord([x, bandHi[i]]));
  for (let i = bandX.length - 1; i >= 0; i--) pts.push(api.coord([bandX[i], bandLo[i]]));
  return { type: 'polygon', shape: { points: pts }, style: { fill: 'rgba(150,150,150,0.65)' } };
}

function txt(x, y, text, size, style, rotation) {
  return {
    type: 'text', x: x, y: y, rotation: rotation || 0, silent: true, z: 100,
    style: Object.assign({
      text: text, fontSize: size, fontFamily: FONT, fill: '#1a1a1a',
      align: 'center', verticalAlign: 'middle'
    }, style || {})
  };
}

const stripTop = 864.3, stripStep = 60, stripH = 56.7;

const grids = [
  { left: 75, top: 4, width: 990, height: 221, show: true, borderColor: '#3a3a3a', borderWidth: 1.6 },
  { left: 75, top: 251, width: 990, height: 541.5, show: true, borderColor: '#3a3a3a', borderWidth: 1.6 }
];
stripNames.forEach((n, i) => grids.push({
  left: 75, top: stripTop + i * stripStep, width: 990, height: stripH,
  show: true, borderColor: '#5c5c5c', borderWidth: 2
}));
grids.push({ left: 96.8, top: 1353.3, width: 477.2, height: 353.4, show: true, borderColor: '#151515', borderWidth: 1.8 });
grids.push({ left: 686.3, top: 1353.3, width: 477.7, height: 353.4, show: true, borderColor: '#151515', borderWidth: 1.8 });

const xAxes = [
  hiddenAxis(0, -0.3525, 0.7245),
  valueAxis(1, -0.3525, 0.7245, aXTicks, aXLabels, 11)
];
const yAxes = [
  { type: 'category', gridIndex: 0, data: boxRows.map(r => r[0]), inverse: true, show: false },
  valueAxis(1, -0.438, 0.4017, aYTicks, aYLabels, 10)
];
stripNames.forEach((n, i) => {
  xAxes.push(hiddenAxis(2 + i, -4.93, 104.98));
  yAxes.push(hiddenAxis(2 + i, -0.02, 1.0));
});
xAxes.push(valueAxis(9, -0.370, 0.583, cXTicks, cXLabels, 12));
yAxes.push(valueAxis(9, -0.564, 0.449, cYTicks, cYLabels, 12));
xAxes.push(valueAxis(10, -0.011, 1.046, dXTicks, dXLabels, 12));
yAxes.push(valueAxis(10, 0.034, 1.046, dYTicks, dYLabels, 13));

const series = [];
series.push({
  type: 'custom', xAxisIndex: 0, yAxisIndex: 0, silent: true,
  renderItem: renderBox,
  encode: { x: [1, 2, 3, 4, 5], y: 0 },
  data: boxRows.map((r, i) => [i, r[1], r[2], r[3], r[4], r[5]])
});
groups.forEach((g, gi) => {
  series.push({
    type: 'scatter', name: g, xAxisIndex: 1, yAxisIndex: 1, symbolSize: 19,
    itemStyle: { color: groupColors[gi], borderColor: '#141414', borderWidth: 2, opacity: 1 },
    data: pcoaA.filter(p => p[2] === g).map(p => [p[0], p[1]])
  });
});
stripData.forEach((d, i) => {
  series.push({
    type: 'line', xAxisIndex: 2 + i, yAxisIndex: 2 + i, data: d, silent: true,
    symbol: 'none', showSymbol: false, lineStyle: { width: 0 },
    areaStyle: { color: stripColors[i], opacity: 1 }
  });
});
groups.forEach((g, gi) => {
  series.push({
    type: 'scatter', name: g, xAxisIndex: 9, yAxisIndex: 9, symbolSize: 11,
    itemStyle: { color: groupColors[gi], borderColor: '#141414', borderWidth: 1.3, opacity: 1 },
    data: pcoaC.filter(p => p[2] === g).map(p => [p[0], p[1]])
  });
});
const dPoints = dSparse.slice();
dCrowd.concat(massCols).forEach(col => col[1].forEach(v => dPoints.push([col[0] / 1000, v / 100])));
series.push({
  type: 'scatter', xAxisIndex: 10, yAxisIndex: 10, symbolSize: 5.6, silent: true,
  itemStyle: { color: 'rgba(0,0,0,0)', borderColor: '#141414', borderWidth: 1.05, opacity: 1 },
  data: dPoints
});
series.push({
  type: 'custom', xAxisIndex: 10, yAxisIndex: 10, silent: true, z: 5,
  renderItem: renderBand,
  encode: { x: 0, y: [1, 2] },
  data: bandX.map((x, i) => [x, bandLo[i], bandHi[i]])
});
series.push({
  type: 'line', xAxisIndex: 10, yAxisIndex: 10, silent: true, z: 6,
  symbol: 'none', showSymbol: false,
  lineStyle: { color: '#3e5ba7', width: 5 },
  data: fitX.map((x, i) => [x, fitY[i]])
});

const graphics = [
  txt(3, 12, 'A', 19, { fontWeight: 'bold', align: 'left' }),
  txt(3, 871.7, 'B', 19, { fontWeight: 'bold', align: 'left' }),
  txt(3, 1335.5, 'C', 19, { fontWeight: 'bold', align: 'left' }),
  txt(611, 1335.5, 'D', 19, { fontWeight: 'bold', align: 'left' }),
  txt(13.4, 523, 'PCoA 2 (14.7%)', 20, null, Math.PI / 2),
  txt(568, 838, 'PCoA 1 (42.67%)', 20.5),
  txt(627.5, 770, 'ANOSIM: r = 0.29 , p = 0.001', 27),
  txt(45, 1070, 'Relative abundance (%)', 22, null, Math.PI / 2),
  txt(551, 1689, 'ANOSIM: r = 0.59, p = 0.001', 22, { align: 'right' }),
  txt(336, 1756.5, 'PCoA 1 (18.62%)', 22.5),
  txt(21, 1531, 'PCoA 2 (12.68%)', 22.5, null, Math.PI / 2),
  txt(700, 1687, 'Mantel test: r= 0.098, p= 0.002', 22, { align: 'left' }),
  txt(925, 1756.5, 'Plant Jaccard dissimilarity', 22.5),
  txt(616.4, 1530, 'Microbiome Jaccard dissimilarity', 22, null, Math.PI / 2)
];
stripNames.forEach((n, i) => {
  const y = stripTop + i * stripStep + stripH / 2 + 4;
  const parts = n.split(' ');
  const text = parts.length > 1 ? '{i|' + parts[0] + '} ' + parts[1] : '{i|' + n + '}';
  graphics.push(txt(1079, y, text, 21.5, {
    align: 'left',
    rich: { i: { fontStyle: 'italic', fontSize: 21.5, fontFamily: FONT, fill: '#1a1a1a', color: '#1a1a1a' } }
  }));
});

chart.setOption({
  animation: false,
  backgroundColor: '#ffffff',
  textStyle: { fontFamily: FONT },
  grid: grids,
  xAxis: xAxes,
  yAxis: yAxes,
  legend: {
    data: groups, orient: 'vertical', left: 1072, top: 336,
    itemWidth: 40, itemHeight: 18, itemGap: 6, icon: 'circle', selectedMode: false,
    itemStyle: { borderColor: '#141414', borderWidth: 2 },
    textStyle: { fontSize: 17.5, color: '#222', fontFamily: FONT }
  },
  series: series,
  graphic: graphics
});
</script>
</body>
</html>
